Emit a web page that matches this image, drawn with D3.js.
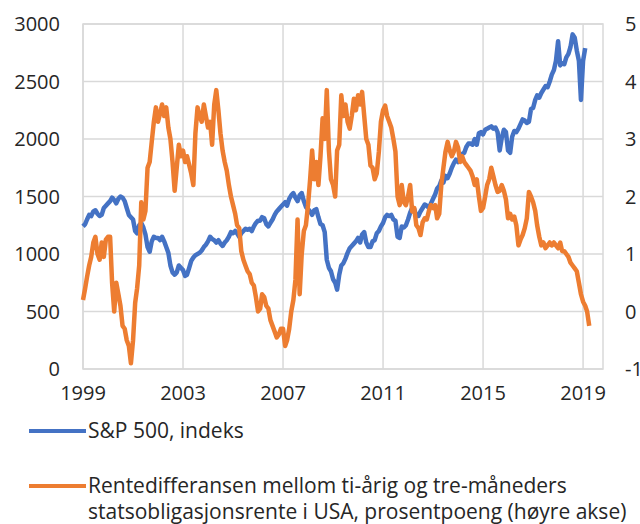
<!DOCTYPE html>
<html><head><meta charset="utf-8">
<script src="https://cdn.jsdelivr.net/npm/d3@7"></script>
<style>
html,body{margin:0;padding:0;background:#fff;}
svg{display:block;font-family:"Open Sans",sans-serif;}
</style></head>
<body><svg id="c" width="640" height="524"></svg>
<script>
// ---- data (monthly, starting Jan 1999) ----
const startMonth = "1999-01";
const sp500 = [
1240,1260,1300,1340,1330,1370,1380,1350,1330,1340,1400,1420,
1440,1460,1490,1470,1440,1480,1500,1490,1460,1400,1340,1320,
1300,1200,1180,1250,1270,1230,1170,1060,1020,1110,1150,1140,
1140,1120,1150,1110,1060,1010,900,840,820,840,900,880,
860,810,820,880,940,970,990,1000,1010,1030,1060,1080,
1110,1150,1130,1120,1100,1120,1090,1070,1100,1120,1150,1190,
1180,1200,1180,1150,1180,1200,1220,1210,1220,1200,1240,1270,
1290,1290,1320,1310,1260,1240,1270,1300,1340,1370,1390,1410,
1430,1450,1420,1480,1510,1530,1490,1460,1510,1530,1460,1410,
1390,1370,1340,1380,1390,1320,1260,1250,1190,950,880,850,
780,750,690,820,900,920,960,1010,1050,1070,1090,1110,
1140,1100,1170,1190,1100,1060,1060,1110,1120,1180,1200,1240,
1270,1320,1340,1330,1340,1300,1290,1150,1140,1240,1230,1250,
1300,1360,1400,1390,1330,1330,1370,1400,1430,1420,1400,1440,
1480,1520,1570,1590,1640,1620,1680,1660,1700,1750,1790,1820,
1800,1840,1870,1880,1930,1960,1960,1950,2000,1950,2050,2060,
2040,2080,2090,2100,2110,2090,2100,2060,1900,2010,2080,2060,
1900,1880,2020,2070,2060,2090,2130,2170,2160,2140,2150,2260,
2270,2340,2380,2360,2400,2430,2460,2450,2500,2560,2600,2680,
2850,2640,2660,2650,2710,2740,2800,2910,2880,2770,2680,2340,
2680,2790
];
const spread = [
0.2,0.4,0.6,0.8,0.95,1.2,1.3,1.0,0.9,1.2,0.95,1.25,
1.3,1.3,0.5,0.0,0.5,0.3,0.1,-0.25,-0.3,-0.5,-0.6,-0.9,
-0.5,0.15,0.4,0.8,1.9,1.6,1.75,2.5,2.6,2.95,3.3,3.55,
3.3,3.45,3.6,3.4,3.55,3.2,3.0,2.6,2.1,2.5,2.9,2.7,
2.8,2.6,2.7,2.55,2.4,2.2,3.1,3.55,3.4,3.3,3.6,3.4,
3.2,3.3,2.9,3.6,3.85,3.5,3.1,2.8,2.6,2.45,2.2,2.0,
1.85,1.7,1.5,1.45,1.05,0.9,0.8,0.7,0.65,0.5,0.45,0.25,
0.0,0.05,0.3,0.25,0.1,0.05,-0.15,-0.25,-0.35,-0.45,-0.4,-0.3,
-0.3,-0.6,-0.5,-0.3,0.0,0.2,0.55,1.6,0.3,1.0,1.4,1.5,
1.85,2.3,2.8,2.3,2.6,2.2,2.7,3.36,3.0,3.85,2.8,2.3,
2.2,2.0,2.8,2.9,3.76,3.4,3.6,3.3,3.18,3.4,3.7,3.5,
3.76,3.6,3.82,3.4,3.0,2.9,2.54,2.5,2.3,2.4,2.78,3.3,
3.5,3.58,3.4,3.3,3.2,3.0,2.78,2.0,1.85,2.2,1.9,1.85,
2.0,2.2,1.74,1.8,1.5,1.45,1.33,1.55,1.62,1.6,1.75,1.85,
1.8,1.85,1.62,1.7,2.2,2.5,2.78,2.95,2.8,2.7,2.78,2.95,
2.85,2.6,2.7,2.6,2.55,2.5,2.45,2.35,2.2,2.3,2.0,1.75,
1.8,2.0,2.2,2.3,2.5,2.35,2.2,2.08,2.1,2.2,2.1,1.95,
1.62,1.7,1.6,1.65,1.5,1.15,1.25,1.33,1.45,1.62,2.08,2.0,
1.9,1.75,1.5,1.3,1.15,1.2,1.1,1.15,1.2,1.15,1.2,1.15,
1.1,1.2,1.05,1.05,1.0,0.95,0.85,0.8,0.75,0.7,0.5,0.3,
0.17,0.1,0.0,-0.25
];
const yearTicks = [1999,2003,2007,2011,2015,2019];
const leftTicks = [0,500,1000,1500,2000,2500,3000];
const rightTicks = [-1,0,1,2,3,4,5];
const legendLabels = [
  ["S&P 500, indeks"],
  ["Rentedifferansen mellom ti-årig og tre-måneders","statsobligasjonsrente i USA, prosentpoeng (høyre akse)"]
];
const colors = ["#4472C4","#ED7D31"];

// ---- layout ----
const svg = d3.select("#c");
const L=83, R=603, T=24, B=369;
const t0 = d3.timeParse("%Y-%m")(startMonth);
const dateOf = i => d3.timeMonth.offset(t0, i);
const x = d3.scaleTime().domain([new Date(1999,0,1), new Date(2019,9,19)]).range([L,R]);
const yL = d3.scaleLinear().domain([0,3000]).range([B,T]);
const yR = d3.scaleLinear().domain([-1,5]).range([B,T]);
const grid = "#d9d9d9", txt = "#262626";

// gridlines
const g = svg.append("g");
g.selectAll("line.h").data(leftTicks).join("line")
  .attr("x1",L).attr("x2",R).attr("y1",d=>yL(d)).attr("y2",d=>yL(d))
  .attr("stroke",grid).attr("stroke-width",1.5);
g.selectAll("line.v").data(yearTicks).join("line")
  .attr("x1",d=>x(new Date(d,0,1))).attr("x2",d=>x(new Date(d,0,1)))
  .attr("y1",T).attr("y2",B).attr("stroke",grid).attr("stroke-width",1.5);
g.append("rect").attr("x",L).attr("y",T).attr("width",R-L).attr("height",B-T)
  .attr("fill","none").attr("stroke",grid).attr("stroke-width",1.5);

// axes labels
svg.append("g").selectAll("text").data(leftTicks).join("text")
  .attr("x",60).attr("y",d=>yL(d)).attr("dy","0.35em").attr("text-anchor","end")
  .attr("font-size",20).attr("fill",txt).text(d=>d);
svg.append("g").selectAll("text").data(rightTicks).join("text")
  .attr("x",625).attr("y",d=>yR(d)).attr("dy","0.35em").attr("text-anchor","start")
  .attr("font-size",20).attr("fill",txt).text(d=>d);
svg.append("g").selectAll("text").data(yearTicks).join("text")
  .attr("x",d=>x(new Date(d,0,1))).attr("y",393).attr("dy","0.35em").attr("text-anchor","middle")
  .attr("font-size",20).attr("fill",txt).text(d=>d);

// lines
const lineL = d3.line().x((d,i)=>x(dateOf(i))).y(d=>yL(d));
const lineR = d3.line().x((d,i)=>x(dateOf(i))).y(d=>yR(d));
svg.append("path").datum(sp500).attr("d",lineL).attr("fill","none")
  .attr("stroke",colors[0]).attr("stroke-width",4.5).attr("stroke-linejoin","round");
svg.append("path").datum(spread).attr("d",lineR).attr("fill","none")
  .attr("stroke",colors[1]).attr("stroke-width",4.5).attr("stroke-linejoin","round");

// legend
const legY = [431,486];
legendLabels.forEach((lines,k)=>{
  svg.append("line").attr("x1",29).attr("x2",86).attr("y1",legY[k]).attr("y2",legY[k])
    .attr("stroke",colors[k]).attr("stroke-width",4);
  lines.forEach((s,j)=>{
    svg.append("text").attr("x",88).attr("y",legY[k]+j*26).attr("dy","0.35em")
      .attr("font-size",21).attr("fill",txt).text(s);
  });
});
</script></body></html>
